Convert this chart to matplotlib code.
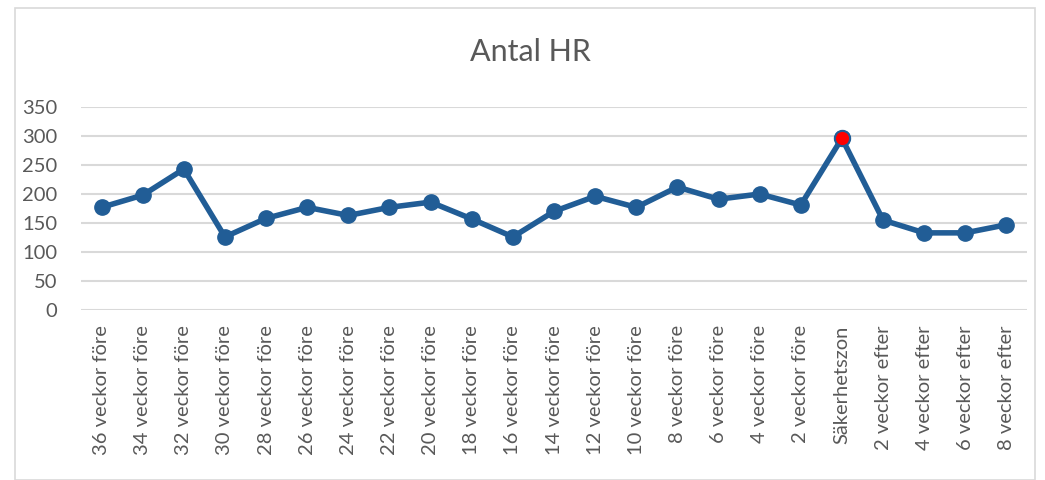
import matplotlib.pyplot as plt
from matplotlib.patches import Rectangle

categories = [f"{n} veckor före" for n in range(36, 0, -2)] + ["Säkerhetszon"] + \
             [f"{n} veckor efter" for n in range(2, 10, 2)]
values = [177, 198, 243, 126, 158, 177, 163, 177, 186, 157, 126, 170,
          196, 177, 212, 191, 200, 181, 296, 155, 133, 133, 147]
highlight = "Säkerhetszon"
yticks = [0, 50, 100, 150, 200, 250, 300, 350]

plt.rcParams['font.family'] = ['Lato', 'DejaVu Sans']
grey = '#595959'
blue = '#215d96'

fig = plt.figure(figsize=(10.45, 4.8), dpi=100)
fig.patches.append(Rectangle((15 / 1045, 0.0), 1020 / 1045, 1 - 8 / 480,
                             transform=fig.transFigure, fill=False,
                             edgecolor='#d9d9d9', linewidth=1.2))
ax = fig.add_axes([81 / 1045, 1 - 310 / 480, 946 / 1045, 203 / 480])

x = list(range(len(categories)))
ax.plot(x, values, color=blue, linewidth=4, marker='o', markersize=11,
        markerfacecolor=blue, markeredgecolor=blue, zorder=3,
        solid_capstyle='round')
hi = categories.index(highlight)
ax.plot([hi], [values[hi]], marker='o', markersize=11, markerfacecolor='#ff0000',
        markeredgecolor=blue, markeredgewidth=1.5, zorder=4, linestyle='none')

ax.set_xlim(-0.5, len(categories) - 0.5)
ax.set_ylim(0, 350)
ax.set_yticks(yticks)
ax.set_xticks(x)
ax.set_xticklabels(categories, rotation=90)
ax.yaxis.grid(True, color='#d9d9d9', linewidth=1.5)
ax.set_axisbelow(True)
for s in ax.spines.values():
    s.set_visible(False)
ax.tick_params(axis='both', length=0, labelsize=14.5, labelcolor=grey)
ax.tick_params(axis='y', pad=17)
ax.tick_params(axis='x', pad=11)

fig.text(530 / 1045, 1 - 52 / 480, "Antal HR", ha='center', va='center',
         fontsize=22, color=grey)

fig.savefig('out.png', dpi=100)
